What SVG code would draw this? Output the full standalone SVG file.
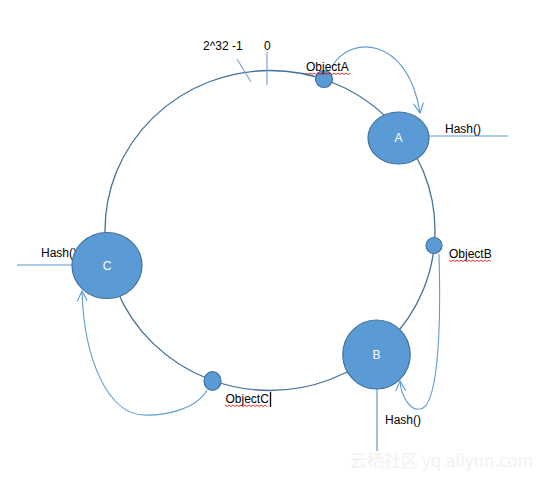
<svg xmlns="http://www.w3.org/2000/svg" width="539" height="480" viewBox="0 0 539 480">
<style>
.node{fill:#5b9bd5;stroke:#41719c;stroke-width:1.2}
.lbl{font-family:"Liberation Sans",Arial,sans-serif;font-size:12px;fill:#000}
.nl{font-family:"Liberation Sans",Arial,sans-serif;font-size:12px;fill:#fff;text-anchor:middle}
.tick{stroke:#7aa6d6;stroke-width:1.2;fill:none}
.arr{stroke:#5b9bd5;stroke-width:1.1;fill:none;marker-end:url(#ah)}
.hl{stroke:#5b9bd5;stroke-width:1.2;fill:none}
.sq{stroke:#e00000;stroke-width:0.8;fill:none}
</style>
<defs>
<marker id="ah" viewBox="0 0 12 12" refX="11" refY="6" markerWidth="12" markerHeight="12" markerUnits="userSpaceOnUse" orient="auto">
<path d="M1,1 L11,6 L1,11" fill="none" stroke="#5b9bd5" stroke-width="1.1"/>
</marker>
</defs>
<rect width="539" height="480" fill="#fff"/>
<g id="connectors">
<ellipse cx="270" cy="230.5" rx="165" ry="160" fill="none" stroke="#41719c" stroke-width="1.3"/>
<line class="tick" x1="267" y1="52" x2="267" y2="85"/>
<line class="tick" x1="237" y1="59" x2="251" y2="82"/>
<line class="hl" x1="429" y1="136" x2="508" y2="136"/>
<line class="hl" x1="17" y1="265" x2="73" y2="265"/>
<line class="hl" x1="377" y1="389" x2="377" y2="451"/>
<path class="arr" d="M332,67 C348,35 408,35 420,113"/>
<path class="arr" d="M439,254 C441,320 439,398 423,408 C411,414 401,396 400,381"/>
<path class="arr" d="M207,390 C196,410 163,416 143,415 C108,413 84,360 82,291"/>
</g>
<text class="lbl" x="203" y="50">2^32 -1</text>
<text class="lbl" x="264" y="50">0</text>
<text class="lbl" x="445" y="133">Hash()</text>
<text class="lbl" x="41" y="257">Hash()</text>
<text class="lbl" x="385" y="424">Hash()</text>
<g id="A"><ellipse class="node" cx="398.5" cy="138" rx="30.5" ry="26"/><text class="nl" x="398.5" y="142">A</text></g>
<g id="B"><ellipse class="node" cx="376.5" cy="354.5" rx="33.7" ry="34.5"/><text class="nl" x="376.5" y="359">B</text></g>
<g id="C"><ellipse class="node" cx="107" cy="265.5" rx="35" ry="33"/><text class="nl" x="107" y="270">C</text></g>
<g id="objA"><ellipse class="node" cx="324" cy="79" rx="8.5" ry="8.5"/><text class="lbl" x="306" y="71">ObjectA</text><path class="sq" d="M306,73 l2,1.5 l2,-1.5 l2,1.5 l2,-1.5 l2,1.5 l2,-1.5 l2,1.5 l2,-1.5 l2,1.5 l2,-1.5 l2,1.5 l2,-1.5 l2,1.5 l2,-1.5 l2,1.5 l2,-1.5 l2,1.5 l2,-1.5 l2,1.5 l2,-1.5 l2,1.5 l2,-1.5"/></g>
<g id="objB"><ellipse class="node" cx="434" cy="245.5" rx="8" ry="8"/><text class="lbl" x="449" y="258">ObjectB</text><path class="sq" d="M449,260 l2,1.5 l2,-1.5 l2,1.5 l2,-1.5 l2,1.5 l2,-1.5 l2,1.5 l2,-1.5 l2,1.5 l2,-1.5 l2,1.5 l2,-1.5 l2,1.5 l2,-1.5 l2,1.5 l2,-1.5 l2,1.5 l2,-1.5 l2,1.5 l2,-1.5 l2,1.5"/></g>
<g id="objC"><ellipse class="node" cx="212.5" cy="381" rx="8.5" ry="9.5"/><text class="lbl" x="225.5" y="403">ObjectC</text><path class="sq" d="M225,405 l2,1.5 l2,-1.5 l2,1.5 l2,-1.5 l2,1.5 l2,-1.5 l2,1.5 l2,-1.5 l2,1.5 l2,-1.5 l2,1.5 l2,-1.5 l2,1.5 l2,-1.5 l2,1.5 l2,-1.5 l2,1.5 l2,-1.5 l2,1.5 l2,-1.5 l2,1.5"/><line x1="270.5" y1="392" x2="270.5" y2="407" stroke="#000" stroke-width="1.3"/></g>
<text x="350" y="467" font-family="'Noto Sans CJK SC','Liberation Sans',sans-serif" font-size="17" fill="#f1f1f1">云栖社区 yq.aliyun.com</text>
</svg>
